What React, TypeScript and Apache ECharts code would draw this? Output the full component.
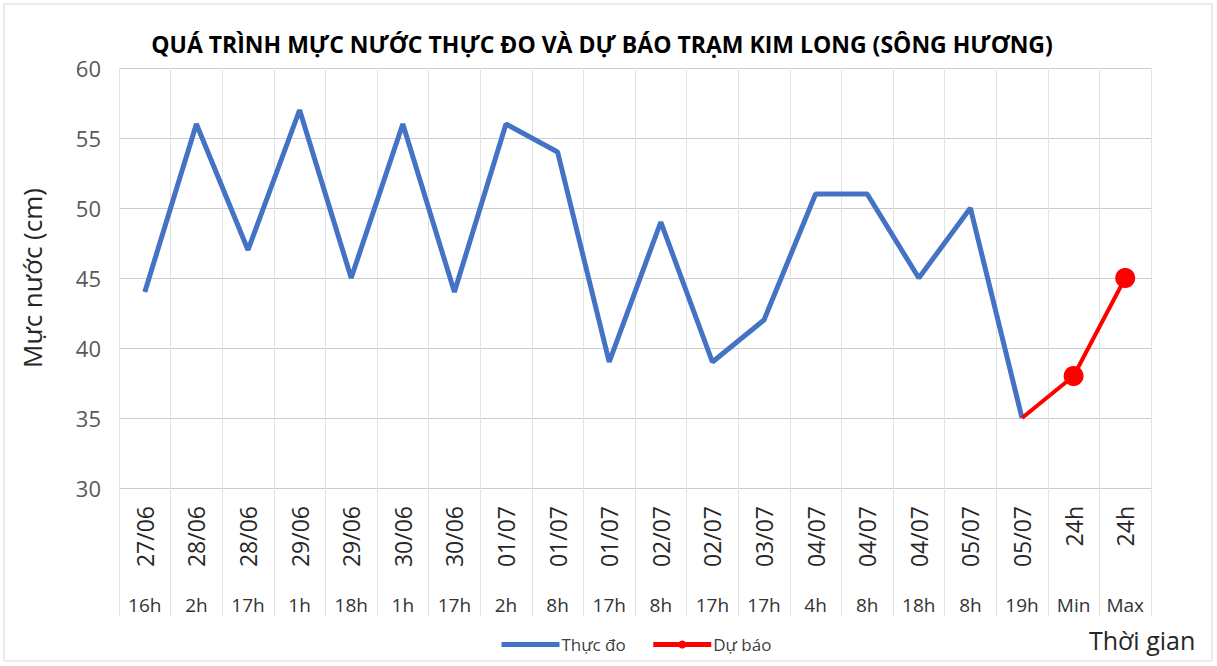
import React, { useEffect, useRef } from "react";
import * as echarts from "echarts";

const dates = ["27/06","28/06","28/06","29/06","29/06","30/06","30/06","01/07","01/07","01/07","02/07","02/07","03/07","04/07","04/07","04/07","05/07","05/07","24h","24h"];
const hours = ["16h","2h","17h","1h","18h","1h","17h","2h","8h","17h","8h","17h","17h","4h","8h","18h","8h","19h","Min","Max"];
const observed: (number | null)[] = [44,56,47,57,45,56,44,56,54,39,49,39,42,51,51,45,50,35,null,null];
const forecast: (number | null)[] = [null,null,null,null,null,null,null,null,null,null,null,null,null,null,null,null,null,35,38,45];
const yTicks = { min: 30, max: 60, interval: 5 };

export default function App() {
  const ref = useRef<HTMLDivElement>(null);
  useEffect(() => {
    if (!ref.current) return;
    const chart = echarts.init(ref.current, undefined, { renderer: "svg" });
    const font = "'Open Sans', sans-serif";
    const hGrey = "#cccccc";
    const vGrey = "#e2e2e2";
    chart.setOption({
      animation: false,
      backgroundColor: "#ffffff",
      textStyle: { fontFamily: font },
      title: {
        text: "QUÁ TRÌNH MỰC NƯỚC THỰC ĐO VÀ DỰ BÁO TRẠM KIM LONG (SÔNG HƯƠNG)",
        left: 597,
        textAlign: "center",
        top: 27,
        textStyle: { fontFamily: font, fontWeight: "bold", fontSize: 23, color: "#000" },
      },
      graphic: [
        { type: "rect", shape: { x: 4, y: 4, width: 1208, height: 657 }, style: { fill: "none", stroke: "#d9d9d9", lineWidth: 1 }, silent: true },
        { type: "text", left: 1089, top: 627, style: { text: "Thời gian", fontFamily: font, fontSize: 25, fill: "#262626" } },
      ],
      legend: {
        left: 494,
        top: 631,
        itemWidth: 58,
        itemHeight: 10,
        itemGap: 25,
        textStyle: { fontFamily: font, fontSize: 17, color: "#404040", padding: [0, 0, 0, -3] },
        data: [
          { name: "Thực đo", itemStyle: { opacity: 0 }, lineStyle: { width: 5 } },
          { name: "Dự báo", lineStyle: { width: 5 } },
        ],
      },
      grid: { left: 119, right: 66, top: 68, bottom: 178 },
      xAxis: [
        {
          type: "category",
          data: dates,
          boundaryGap: true,
          axisLine: { lineStyle: { color: hGrey } },
          axisTick: { show: true, interval: 0, length: 128, lineStyle: { color: vGrey } },
          axisLabel: { interval: 0, rotate: 90, fontSize: 23, color: "#262626", margin: 18, fontFamily: font },
          splitLine: { show: true, interval: 0, lineStyle: { color: vGrey } },
        },
        {
          type: "category",
          data: hours,
          position: "bottom",
          boundaryGap: true,
          axisLine: { show: false },
          axisTick: { show: false },
          axisLabel: { interval: 0, fontSize: 19, color: "#333333", margin: 107, fontFamily: font },
          splitLine: { show: false },
        },
      ],
      yAxis: {
        type: "value",
        min: yTicks.min,
        max: yTicks.max,
        interval: yTicks.interval,
        name: "Mực nước (cm)",
        nameLocation: "middle",
        nameGap: 74,
        nameTextStyle: { fontFamily: font, fontSize: 26, color: "#262626" },
        axisLine: { show: false },
        axisTick: { show: false },
        axisLabel: { fontSize: 22, color: "#595959", margin: 18, fontFamily: font },
        splitLine: { lineStyle: { color: hGrey } },
      },
      series: [
        {
          name: "Thực đo",
          type: "line",
          data: observed,
          symbol: "none",
          lineStyle: { color: "#4472C4", width: 5 },
          itemStyle: { color: "#4472C4" },
          connectNulls: false,
        },
        {
          name: "Dự báo",
          type: "line",
          data: forecast.map((v, i) => (v !== null && i === 17 ? { value: v, symbol: "none" } : v)),
          symbol: "circle",
          symbolSize: 20,
          lineStyle: { color: "#FF0000", width: 4 },
          itemStyle: { color: "#FF0000" },
        },
      ],
    });
    return () => chart.dispose();
  }, []);
  return <div ref={ref} style={{ position: "fixed", left: 0, top: 0, width: 1217, height: 666 }} />;
}
